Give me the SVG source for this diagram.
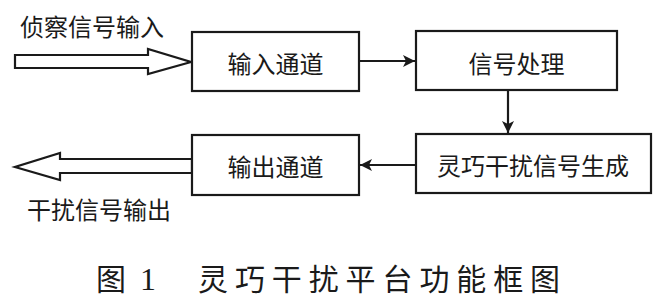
<svg xmlns="http://www.w3.org/2000/svg" width="663" height="301" viewBox="0 0 663 301">
<defs>
<style>
.box{fill:#fff;stroke:#1a1a1a;stroke-width:2.2}
.t{font-family:"Noto Sans CJK SC","Noto Sans",sans-serif;font-size:24px;fill:#1a1a1a;text-anchor:middle;dominant-baseline:central}
.c{stroke:#1a1a1a;stroke-width:2.2;fill:none}
.h{fill:#fff;stroke:#1a1a1a;stroke-width:2.2;stroke-linejoin:miter}
.cap{font-family:"Noto Sans CJK SC","Noto Sans",sans-serif;font-size:30px;fill:#1a1a1a}
</style>
<marker id="ah" viewBox="0 0 10 10" refX="10" refY="5" markerWidth="13" markerHeight="12" markerUnits="userSpaceOnUse" orient="auto">
<path d="M0,0 L10,5 L0,10 L2.5,5 Z" fill="#1a1a1a"/>
</marker>
</defs>
<rect width="663" height="301" fill="#fff"/>
<g id="connectors">
<line class="c" x1="359" y1="61" x2="415" y2="61" marker-end="url(#ah)"/>
<line class="c" x1="508" y1="90" x2="508" y2="133" marker-end="url(#ah)"/>
<line class="c" x1="416" y1="165" x2="360" y2="165" marker-end="url(#ah)"/>
<polygon class="h" points="15,55 148,55 148,49 191,62 148,74 148,68 15,68"/>
<polygon class="h" points="192,159 60,159 60,153 15,167 60,180 60,173 192,173"/>
</g>
<g id="label-in"><text class="t" x="92" y="25">侦察信号输入</text></g>
<g id="label-out"><text class="t" x="99" y="208">干扰信号输出</text></g>
<g id="n1"><rect class="box" x="192" y="32" width="167" height="59"/><text class="t" x="275.5" y="62">输入通道</text></g>
<g id="n2"><rect class="box" x="416" y="31" width="201" height="59"/><text class="t" x="516.5" y="62">信号处理</text></g>
<g id="n3"><rect class="box" x="416" y="134" width="235" height="59"/><text class="t" x="533" y="164">灵巧干扰信号生成</text></g>
<g id="n4"><rect class="box" x="192" y="135" width="167" height="60"/><text class="t" x="275.5" y="165">输出通道</text></g>
<g id="caption">
<text class="cap" x="96" y="290">图</text>
<text class="cap" x="140" y="290" style="font-family:'Liberation Serif',serif;font-size:32px">1</text>
<text class="cap" x="198 234.9 271.8 308.7 345.6 382.5 419.4 456.3 493.2 530.1" y="290">灵巧干扰平台功能框图</text>
</g>
</svg>
